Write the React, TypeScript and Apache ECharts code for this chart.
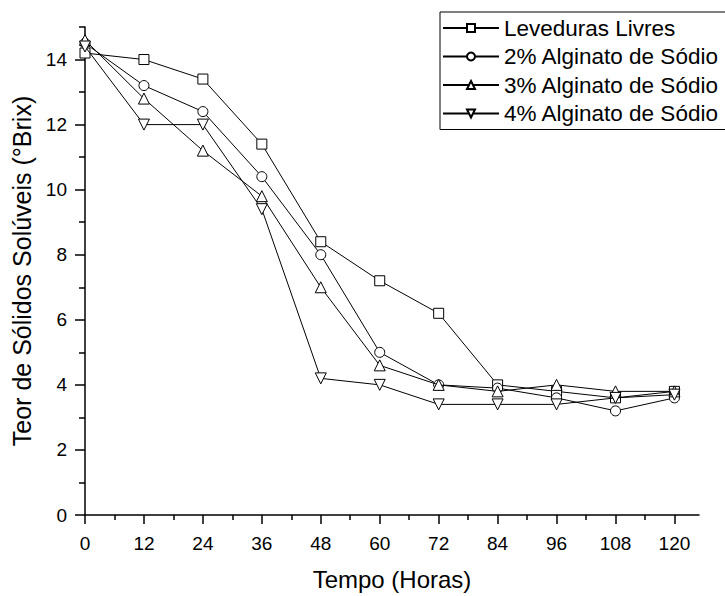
import { useEffect, useRef } from "react";
import * as echarts from "echarts";

// Sampling times (hours)
const hours = [0, 12, 24, 36, 48, 60, 72, 84, 96, 108, 120];

// Soluble solids (°Brix) per treatment
const seriesNames = [
  "Leveduras Livres",
  "2% Alginato de Sódio",
  "3% Alginato de Sódio",
  "4% Alginato de Sódio",
];
const levedurasLivres = [14.2, 14.0, 13.4, 11.4, 8.4, 7.2, 6.2, 4.0, 3.8, 3.6, 3.8];
const alginato2 = [14.5, 13.2, 12.4, 10.4, 8.0, 5.0, 4.0, 3.9, 3.6, 3.2, 3.6];
const alginato3 = [14.6, 12.8, 11.2, 9.8, 7.0, 4.6, 4.0, 3.8, 4.0, 3.8, 3.8];
const alginato4 = [14.4, 12.0, 12.0, 9.4, 4.2, 4.0, 3.4, 3.4, 3.4, 3.6, 3.7];

// Axis ticks
const xMajorTicks = [0, 12, 24, 36, 48, 60, 72, 84, 96, 108, 120];
const xMinorTicks = [6, 18, 30, 42, 54, 66, 78, 90, 102, 114];
const yMajorTicks = [0, 2, 4, 6, 8, 10, 12, 14];
const yMinorTicks = [1, 3, 5, 7, 9, 11, 13, 15];

const FONT = "Liberation Sans, Arial, Helvetica, sans-serif";

export default function App() {
  const ref = useRef<HTMLDivElement>(null);

  useEffect(() => {
    if (!ref.current) return;
    const chart = echarts.init(ref.current, undefined, { renderer: "svg" });

    const pair = (vals: number[]) => hours.map((h, i) => [h, vals[i]]);
    const symbols = ["rect", "circle", "triangle", "triangle"];
    const sizes = [10, 10, 11, 11];
    const rotations = [0, 0, 0, 180];
    const datasets = [levedurasLivres, alginato2, alginato3, alginato4];

    const axisLine = { show: true, lineStyle: { color: "#000", width: 1.5 } };

    chart.setOption({
      animation: false,
      backgroundColor: "#fff",
      grid: { left: 85, right: 26, top: 27, bottom: 76 },
      legend: {
        orient: "vertical",
        left: 440,
        top: 12,
        padding: [4, 10, 4, 2],
        itemGap: 4.5,
        itemWidth: 56,
        itemHeight: 10,
        borderColor: "#000",
        borderWidth: 1,
        backgroundColor: "#fff",
        textStyle: { color: "#000", fontFamily: FONT, fontSize: 22.5, lineHeight: 24 },
        data: seriesNames,
      },
      xAxis: [
        {
          type: "value",
          min: 0,
          max: 125,
          position: "bottom",
          name: "Tempo (Horas)",
          nameLocation: "middle",
          nameGap: 52,
          nameTextStyle: { color: "#000", fontFamily: FONT, fontSize: 24 },
          axisLine,
          axisTick: { show: true, length: 9, customValues: xMajorTicks, lineStyle: { color: "#000", width: 1.5 } },
          axisLabel: { customValues: xMajorTicks, margin: 19, color: "#000", fontFamily: FONT, fontSize: 19 },
          splitLine: { show: false },
        },
        {
          type: "value",
          min: 0,
          max: 125,
          position: "bottom",
          axisLine: { show: false },
          axisTick: { show: true, length: 5, customValues: xMinorTicks, lineStyle: { color: "#000", width: 1.5 } },
          axisLabel: { show: false },
          splitLine: { show: false },
        },
      ],
      yAxis: [
        {
          type: "value",
          min: 0,
          max: 15,
          position: "left",
          name: "Teor de Sólidos Solúveis (°Brix)",
          nameLocation: "middle",
          nameGap: 49,
          nameTextStyle: { color: "#000", fontFamily: FONT, fontSize: 25 },
          axisLine,
          axisTick: { show: true, length: 10, customValues: yMajorTicks, lineStyle: { color: "#000", width: 1.5 } },
          axisLabel: { customValues: yMajorTicks, margin: 18, color: "#000", fontFamily: FONT, fontSize: 19 },
          splitLine: { show: false },
        },
        {
          type: "value",
          min: 0,
          max: 15,
          position: "left",
          axisLine: { show: false },
          axisTick: { show: true, length: 6, customValues: yMinorTicks, lineStyle: { color: "#000", width: 1.5 } },
          axisLabel: { show: false },
          splitLine: { show: false },
        },
      ],
      series: seriesNames.map((name, i) => ({
        name,
        type: "line",
        xAxisIndex: 0,
        yAxisIndex: 0,
        data: pair(datasets[i]),
        symbol: symbols[i],
        symbolSize: sizes[i],
        symbolRotate: rotations[i],
        showAllSymbol: true,
        lineStyle: { color: "#000", width: 1 },
        itemStyle: { color: "#fff", borderColor: "#000", borderWidth: 1 },
        emphasis: { disabled: true },
        z: 3 + i,
      })),
    });

    return () => chart.dispose();
  }, []);

  return (
    <div
      ref={ref}
      style={{ position: "fixed", left: 0, top: 0, width: 725, height: 596, background: "#fff" }}
    />
  );
}
